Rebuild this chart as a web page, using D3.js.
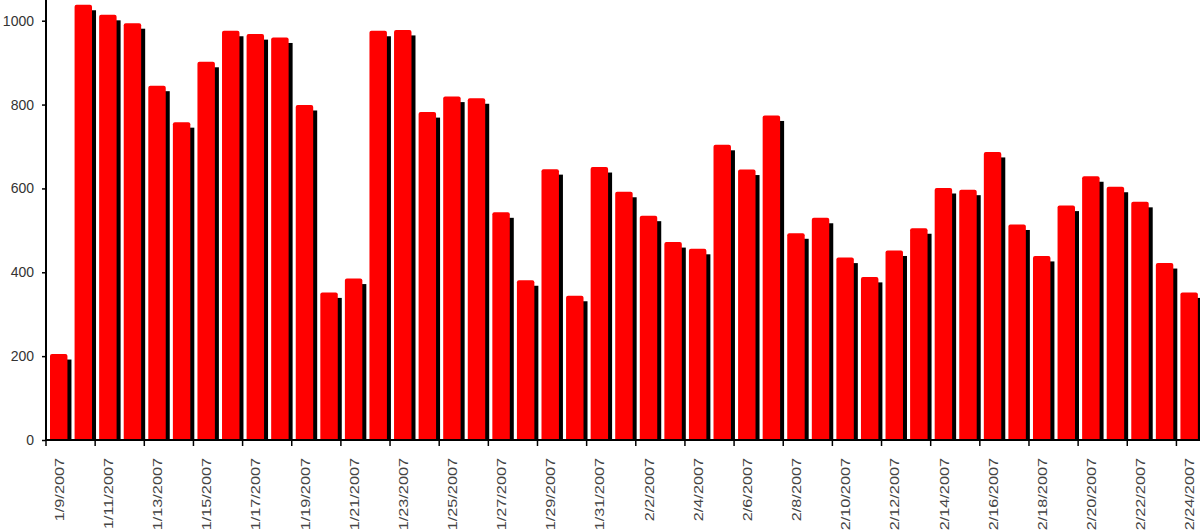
<!DOCTYPE html>
<html lang="en">
<head>
    <meta charset="UTF-8">
    <title>Daily counts, Jan - Feb 2007</title>
    <style>
        body { margin: 0; background: #fff; }
        #chart { width: 1200px; height: 530px; overflow: hidden; }
        text { font-family: "Liberation Sans", Arial, sans-serif; }
    </style>
</head>
<body>
<div id="chart"></div>

<script src="https://d3js.org/d3.v7.min.js"></script>
<script>
    const dates = [
        '1/9/2007', '1/10/2007', '1/11/2007', '1/12/2007', '1/13/2007', '1/14/2007', '1/15/2007',
        '1/16/2007', '1/17/2007', '1/18/2007', '1/19/2007', '1/20/2007', '1/21/2007', '1/22/2007',
        '1/23/2007', '1/24/2007', '1/25/2007', '1/26/2007', '1/27/2007', '1/28/2007', '1/29/2007',
        '1/30/2007', '1/31/2007', '2/1/2007', '2/2/2007', '2/3/2007', '2/4/2007', '2/5/2007',
        '2/6/2007', '2/7/2007', '2/8/2007', '2/9/2007', '2/10/2007', '2/11/2007', '2/12/2007',
        '2/13/2007', '2/14/2007', '2/15/2007', '2/16/2007', '2/17/2007', '2/18/2007', '2/19/2007',
        '2/20/2007', '2/21/2007', '2/22/2007', '2/23/2007', '2/24/2007'
    ];

    const values = [
        205, 1038, 1014, 994, 845, 758, 902, 976, 968, 960,
        799, 352, 385, 976, 978, 782, 819, 815, 543, 381,
        646, 344, 651, 592, 535, 472, 456, 704, 645, 774,
        493, 530, 435, 389, 452, 505, 601, 597, 687, 514,
        439, 559, 629, 604, 568, 422, 352
    ];

    const yTicks = [0, 200, 400, 600, 800, 1000];

    const data = dates.map((d, i) => ({ date: d, value: values[i] }));

    const left = 46, right = 1201, base = 440, top1000 = 20.7;

    const svg = d3.select("#chart").append("svg")
        .attr("width", 1200)
        .attr("height", 530);

    const x = d3.scaleBand()
        .domain(dates)
        .range([left, right])
        .padding(0);

    const y = d3.scaleLinear()
        .domain([0, 1000])
        .range([base, top1000]);

    const step = x.bandwidth();
    const barW = step * 0.71;
    const barOff = 4;

    // shadow behind each bar
    svg.append("g")
      .selectAll("rect")
      .data(data)
      .join("rect")
        .attr("x", d => x(d.date) + barOff + 4)
        .attr("y", d => y(d.value) + 5.5)
        .attr("width", barW)
        .attr("height", d => Math.max(0, base - y(d.value) - 5.5))
        .attr("fill", "#000");

    // red bars (slightly rounded top)
    svg.append("g")
      .selectAll("rect")
      .data(data)
      .join("rect")
        .attr("x", d => x(d.date) + barOff)
        .attr("y", d => y(d.value))
        .attr("width", barW)
        .attr("height", d => base - y(d.value) + 1)
        .attr("rx", 2)
        .attr("fill", "#ff0000");

    // y axis
    const yAxis = svg.append("g")
        .attr("transform", `translate(${left},0)`)
        .call(d3.axisLeft(y).tickValues(yTicks).tickSize(4).tickPadding(8).tickFormat(d3.format("d")));
    yAxis.select(".domain").attr("stroke", "#000").attr("stroke-width", 2)
        .attr("d", `M0,0V${base}`);
    yAxis.selectAll(".tick line").attr("stroke", "#000").attr("stroke-width", 1.5);
    yAxis.selectAll(".tick text")
        .attr("font-size", 14)
        .attr("fill", "#333");

    // x axis line
    svg.append("line")
        .attr("x1", left).attr("x2", 1200)
        .attr("y1", base).attr("y2", base)
        .attr("stroke", "#000").attr("stroke-width", 2);

    // tick marks every second category boundary
    const labelled = dates.filter((d, i) => i % 2 === 0);

    svg.append("g")
      .selectAll("line")
      .data(labelled)
      .join("line")
        .attr("x1", d => x(d)).attr("x2", d => x(d))
        .attr("y1", base).attr("y2", base + 6)
        .attr("stroke", "#000").attr("stroke-width", 1.5);

    svg.append("g")
      .selectAll("text")
      .data(labelled)
      .join("text")
        .attr("transform", d => `translate(${x(d) + step / 2 + 1},${base + 18}) rotate(-90) scale(1.25,1)`)
        .attr("text-anchor", "end")
        .attr("dy", "0.35em")
        .attr("font-size", 13)
        .attr("fill", "#444")
        .text(d => d);
</script>
</body>
</html>
